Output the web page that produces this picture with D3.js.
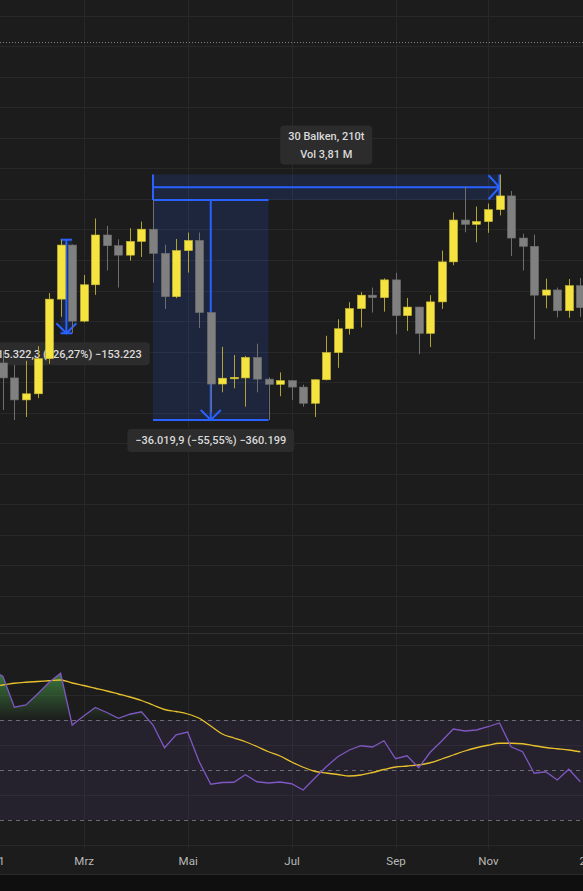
<!DOCTYPE html>
<html><head><meta charset="utf-8">
<script src="https://cdn.jsdelivr.net/npm/d3@7"></script>
<style>html,body{margin:0;padding:0;background:#1c1c1c;} svg{display:block;}</style>
</head><body>
<svg id="chart" width="583" height="891"></svg>
<script>
// ---------- data ----------
const weeks = ["2021-01-04","2021-01-11","2021-01-18","2021-01-25","2021-02-01","2021-02-08","2021-02-15","2021-02-22",
"2021-03-01","2021-03-08","2021-03-15","2021-03-22","2021-03-29","2021-04-05","2021-04-12","2021-04-19","2021-04-26",
"2021-05-03","2021-05-10","2021-05-17","2021-05-24","2021-05-31","2021-06-07","2021-06-14","2021-06-21","2021-06-28",
"2021-07-05","2021-07-12","2021-07-19","2021-07-26","2021-08-02","2021-08-09","2021-08-16","2021-08-23","2021-08-30",
"2021-09-06","2021-09-13","2021-09-20","2021-09-27","2021-10-04","2021-10-11","2021-10-18","2021-10-25",
"2021-11-01","2021-11-08","2021-11-15","2021-11-22","2021-11-29","2021-12-06","2021-12-13","2021-12-20","2021-12-27"];
const open  = [33000,38150,35700,32100,33100,38850,48600,57450,45000,50950,59100,57350,55800,58050,60050,56100,49000,
56550,58200,46400,34700,35600,35700,39050,35500,34650,35250,34200,31550,35400,39850,43750,47050,49250,48850,
51750,45900,47300,43000,48150,54700,61550,60850,61300,63250,65500,58600,57250,49250,50100,46700,50800];
const high  = [41950,40100,37800,38500,40900,49600,58330,57550,52550,61800,60600,58400,60200,61300,64840,57500,58450,
59500,59500,46550,40800,39450,39300,41300,35800,36600,35300,34600,35450,42600,45300,48100,49750,50500,52000,
52900,48800,47350,49250,56550,62800,67000,63750,64250,69000,66300,59300,59150,51950,50500,51900,52050];
const low   = [27750,30450,28800,29300,32400,38000,45700,43010,44800,49300,53300,50500,54900,55500,51300,47000,48750,
52950,43850,30100,33350,34000,31000,33350,28820,32700,32100,31000,29300,35300,37350,42800,43950,46400,46550,
42850,43400,39600,40750,47000,54150,59550,57900,59450,62300,55650,53300,42000,47100,45600,45550,45700];
const close = [38150,35700,32100,33100,38850,48600,57450,45000,50950,59100,57350,55800,58050,60050,56100,49000,56550,
58200,46400,34700,35650,35800,39050,35500,34650,35250,34200,31550,35400,39850,43750,47050,49250,48850,51750,
45900,47300,43000,48150,54700,61550,60850,61300,63250,65500,58600,57250,49250,50100,46700,50800,47200];
const rsi   = [90,87.5,75.1,76,80.4,85,88.7,68,71.6,75,73,70.7,72.3,73.3,68,58.9,64.1,65.2,53.3,44.3,45,45.1,48.1,45.3,
44.8,45.2,44.5,42,46.7,51.3,55.3,58,59.7,59.2,61.7,54.5,55.7,50.9,57.1,61.6,66.4,65.6,66,67.3,68.8,59.3,57.3,48.7,
49.3,46,50.3,45.3];
const rsiMA = [83.5,84,84.7,85.1,85.4,85.7,86,84.8,83.8,82.7,81.6,80.4,79.2,77.8,76,74.2,73.4,72.4,70.7,67.6,64.4,62.8,
61.3,59.4,57.3,55.6,53.2,51.1,49.5,48.8,48.2,47.6,48,49,50.2,51.2,51.6,52,52.9,54.4,56,57.6,58.9,59.9,60.7,60.7,
60.5,59.7,59,58.5,58,57.3];
const tickDates  = ["2021-01-04","2021-03-01","2021-05-03","2021-07-05","2021-09-06","2021-11-01","2022-01-03"];
const tickLabels = ["2021","Mrz","Mai","Jul","Sep","Nov","2022"];
const rsiGrid   = [20,40,60,80,100];
const rsiLevels = [70,50,30];
const priceLine = 90700;
const priceRanges = [
  {x0:"2021-02-15", x1:"2021-02-22", from:58330, to:43010, label:"\u221215.322,3 (\u221226,27%) \u2212153.223"},
  {x0:"2021-04-12", x1:"2021-06-21", from:64840, to:28820, label:"\u221236.019,9 (\u221255,55%) \u2212360.199"}
];
const dateRange = {x0:"2021-04-12", x1:"2021-11-08", top:69000, bottom:64840, lines:["30 Balken, 210t","Vol 3,81 M"]};

// ---------- setup ----------
const W = 583, H = 891;
const mainTop = 0, mainBottom = 633, rsiTop = 634, rsiBottom = 849, axisBottom = 874;
const parse = d3.utcParse("%Y-%m-%d");
const data = weeks.map((w,i)=>({d:parse(w), o:open[i], h:high[i], l:low[i], c:close[i], r:rsi[i], m:rsiMA[i]}));

const x = d3.scaleUtc().domain([parse("2021-04-12"), parse("2021-11-08")]).range([153, 499.5]);
const yP = d3.scaleLinear().domain([0, 95000]).range([595.96, 15.73]);
const yR = d3.scaleLinear().domain([30, 70]).range([820, 720]);

const BG = "#1c1c1c", GRID = "#282828", BLUE = "#2962ff";
const FONT = "Roboto, 'Noto Sans', sans-serif";

const svg = d3.select("#chart");
const defs = svg.append("defs");
defs.append("clipPath").attr("id","clipMain").append("rect").attr("x",0).attr("y",mainTop).attr("width",W).attr("height",mainBottom-mainTop);
defs.append("clipPath").attr("id","clipRsi").append("rect").attr("x",0).attr("y",rsiTop).attr("width",W).attr("height",rsiBottom-rsiTop);
defs.append("clipPath").attr("id","clipOB").append("rect").attr("x",0).attr("y",rsiTop).attr("width",W).attr("height",yR(70)-rsiTop);
const grad = defs.append("linearGradient").attr("id","gOB").attr("gradientUnits","userSpaceOnUse")
  .attr("x1",0).attr("x2",0).attr("y1",yR(100)).attr("y2",yR(70));
grad.append("stop").attr("offset","0%").attr("stop-color","#4caf50").attr("stop-opacity",1);
grad.append("stop").attr("offset","100%").attr("stop-color","#4caf50").attr("stop-opacity",0);

svg.append("rect").attr("width",W).attr("height",H).attr("fill",BG);
svg.append("rect").attr("x",0).attr("y",axisBottom).attr("width",W).attr("height",H-axisBottom).attr("fill","#0f0f0f");

// ---------- main pane ----------
const main = svg.append("g").attr("clip-path","url(#clipMain)");
const tickD = tickDates.map(parse);
main.selectAll("line.vg").data(tickD).join("line")
  .attr("x1",d=>Math.round(x(d))+0.5).attr("x2",d=>Math.round(x(d))+0.5)
  .attr("y1",mainTop).attr("y2",mainBottom).attr("stroke",GRID);
main.selectAll("line.hg").data(d3.range(-5000, 100001, 5000)).join("line")
  .attr("x1",0).attr("x2",W)
  .attr("y1",d=>Math.round(yP(d))+0.5).attr("y2",d=>Math.round(yP(d))+0.5).attr("stroke",GRID);
main.append("line").attr("x1",0).attr("x2",W)
  .attr("y1",Math.round(yP(priceLine))+0.5).attr("y2",Math.round(yP(priceLine))+0.5)
  .attr("stroke","#9a9a9a").attr("stroke-dasharray","1 2").attr("opacity",0.8);

const fillBlue = "rgba(41,98,255,0.15)";
// date range
{
  const x0 = x(parse(dateRange.x0)), x1 = x(parse(dateRange.x1));
  const t = yP(dateRange.top), b = yP(dateRange.bottom), m = (t+b)/2;
  main.append("rect").attr("x",x0).attr("y",t).attr("width",x1-x0).attr("height",b-t).attr("fill",fillBlue);
  const g = main.append("g").attr("stroke",BLUE).attr("stroke-width",2).attr("fill","none");
  g.append("line").attr("x1",x0).attr("x2",x0).attr("y1",t).attr("y2",b);
  g.append("line").attr("x1",x1).attr("x2",x1).attr("y1",t).attr("y2",b);
  g.append("line").attr("x1",x0).attr("x2",x1).attr("y1",m).attr("y2",m);
  g.append("path").attr("d",`M${x1-11},${m-12}L${x1},${m}L${x1-11},${m+12}`);
  const bw = 92, bh = 39, cx = (x0+x1)/2, by = t-10-bh;
  main.append("rect").attr("x",cx-bw/2).attr("y",by).attr("width",bw).attr("height",bh).attr("rx",4).attr("fill","#2c2c2c");
  main.selectAll("text.dr").data(dateRange.lines).join("text")
    .attr("x",cx).attr("y",(d,i)=>by+11+i*18).attr("dy","0.35em").attr("text-anchor","middle")
    .attr("font-family",FONT).attr("font-size",11).attr("font-weight",500).attr("fill","#dadada").text(d=>d);
}
// price ranges
priceRanges.forEach(pr=>{
  const x0 = x(parse(pr.x0)), x1 = x(parse(pr.x1));
  const t = yP(pr.from), b = yP(pr.to), cx = (x0+x1)/2;
  main.append("rect").attr("x",x0).attr("y",t).attr("width",x1-x0).attr("height",b-t).attr("fill",fillBlue);
  const g = main.append("g").attr("stroke",BLUE).attr("stroke-width",2).attr("fill","none");
  g.append("line").attr("x1",x0).attr("x2",x1).attr("y1",t).attr("y2",t);
  g.append("line").attr("x1",x0).attr("x2",x1).attr("y1",b).attr("y2",b);
  g.append("line").attr("x1",cx).attr("x2",cx).attr("y1",t).attr("y2",b);
  g.append("path").attr("d",`M${cx-10},${b-10}L${cx},${b}L${cx+10},${b-10}`);
  const txt = main.append("text").attr("x",cx).attr("y",b+9+11.5).attr("dy","0.35em").attr("text-anchor","middle")
    .attr("font-family",FONT).attr("font-size",11).attr("font-weight",500).attr("fill","#dadada").text(pr.label);
  const tw = txt.node().getComputedTextLength();
  main.insert("rect", () => txt.node()).attr("x",cx-tw/2-8).attr("y",b+9).attr("width",tw+16).attr("height",23)
    .attr("rx",4).attr("fill","#2c2c2c");
});

// candles
const UP = "#f5e33f", UPW = "#b0a233", DN = "#808080", DNW = "#6e6e6e";
const cg = main.append("g");
cg.selectAll("line.w").data(data).join("line")
  .attr("x1",d=>Math.round(x(d.d))+0.5).attr("x2",d=>Math.round(x(d.d))+0.5)
  .attr("y1",d=>yP(d.h)).attr("y2",d=>yP(d.l))
  .attr("stroke",d=>d.c>=d.o?UPW:DNW).attr("stroke-width",1);
cg.selectAll("rect.b").data(data).join("rect")
  .attr("x",d=>Math.round(x(d.d))-3.5).attr("width",8)
  .attr("y",d=>Math.min(yP(d.o),yP(d.c)))
  .attr("height",d=>Math.max(1.5,Math.abs(yP(d.o)-yP(d.c))))
  .attr("fill",d=>d.c>=d.o?UP:DN)
  .attr("stroke",d=>d.c>=d.o?"#cdbd36":"#707070").attr("stroke-width",0.6);

// pane separator
svg.append("line").attr("x1",0).attr("x2",W).attr("y1",633.5).attr("y2",633.5).attr("stroke","#303030");

// ---------- RSI pane ----------
const rp = svg.append("g").attr("clip-path","url(#clipRsi)");
rp.selectAll("line.vg").data(tickD).join("line")
  .attr("x1",d=>Math.round(x(d))+0.5).attr("x2",d=>Math.round(x(d))+0.5)
  .attr("y1",rsiTop).attr("y2",rsiBottom).attr("stroke",GRID);
rp.selectAll("line.hg").data(rsiGrid).join("line")
  .attr("x1",0).attr("x2",W).attr("y1",d=>Math.round(yR(d))+0.5).attr("y2",d=>Math.round(yR(d))+0.5).attr("stroke",GRID);
rp.append("rect").attr("x",0).attr("width",W).attr("y",yR(70)).attr("height",yR(30)-yR(70)).attr("fill","rgba(126,87,194,0.1)");
rp.selectAll("line.lv").data(rsiLevels).join("line")
  .attr("x1",0).attr("x2",W).attr("y1",d=>Math.round(yR(d))+0.5).attr("y2",d=>Math.round(yR(d))+0.5)
  .attr("stroke","#787b80").attr("stroke-dasharray","4 4").attr("opacity",0.85);
rp.append("path").datum(data).attr("clip-path","url(#clipOB)")
  .attr("d",d3.area().x(d=>x(d.d)).y0(yR(70)).y1(d=>yR(d.r)))
  .attr("fill","url(#gOB)");
rp.append("path").datum(data).attr("fill","none").attr("stroke","#e7c02c").attr("stroke-width",1.3)
  .attr("d",d3.line().x(d=>x(d.d)).y(d=>yR(d.m)).curve(d3.curveMonotoneX));
rp.append("path").datum(data).attr("fill","none").attr("stroke","#7e57c2").attr("stroke-width",1.3)
  .attr("d",d3.line().x(d=>x(d.d)).y(d=>yR(d.r)));

// ---------- x axis ----------
const ax = svg.append("g").attr("transform",`translate(0,${rsiBottom})`)
  .call(d3.axisBottom(x).tickValues(tickD).tickFormat((d,i)=>tickLabels[i]).tickSize(0).tickPadding(0));
ax.select(".domain").remove();
ax.selectAll("text").attr("y",12).attr("dy","0.35em").attr("font-family",FONT).attr("font-size",11.5).attr("fill","#b8b8b8");
svg.append("line").attr("x1",0).attr("x2",W).attr("y1",axisBottom+0.5).attr("y2",axisBottom+0.5).attr("stroke","#2a2a2a");
</script>
</body></html>
